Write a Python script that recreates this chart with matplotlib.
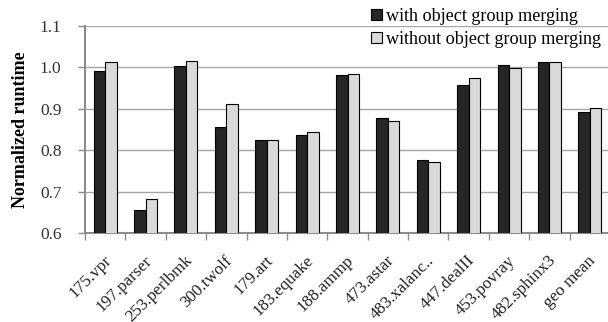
import matplotlib
matplotlib.use("Agg")
import matplotlib.pyplot as plt
import matplotlib.transforms as mtransforms
import numpy as np

plt.rcParams["font.family"] = ["Liberation Serif", "DejaVu Serif"]

benchmarks = ["175.vpr", "197.parser", "253.perlbmk", "300.twolf", "179.art",
              "183.equake", "188.ammp", "473.astar", "483.xalanc..", "447.dealII",
              "453.povray", "482.sphinx3", "geo mean"]
with_merging = [0.991, 0.656, 1.004, 0.856, 0.824, 0.837, 0.981, 0.878,
                0.776, 0.958, 1.005, 1.012, 0.891]
without_merging = [1.012, 0.682, 1.014, 0.911, 0.825, 0.844, 0.984, 0.871,
                   0.771, 0.973, 0.999, 1.012, 0.902]
yticks = [0.6, 0.7, 0.8, 0.9, 1.0, 1.1]

fig = plt.figure(figsize=(6.08, 3.22), dpi=100)
ax = fig.add_axes([85 / 608, 89 / 322, 525 / 608, 207.3 / 322])

x = np.arange(len(benchmarks))
w = 0.285
ax.bar(x - w / 2, with_merging, w, color="#262626", edgecolor="black",
       linewidth=0.8, label="with object group merging", zorder=3)
ax.bar(x + w / 2, without_merging, w, color="#d9d9d9", edgecolor="black",
       linewidth=0.8, label="without object group merging", zorder=3)

ax.set_ylim(0.6, 1.1)
ax.set_xlim(-0.5, len(benchmarks) - 0.5)
ax.set_yticks(yticks)
ax.set_yticklabels([f"{v:.1f}" for v in yticks], fontsize=12.5, color="#333333")
ax.yaxis.grid(True, color="#a6a6a6", linewidth=1.0, zorder=0)
ax.set_axisbelow(True)

# category boundary ticks on the bottom axis
ax.set_xticks(np.arange(len(benchmarks) + 1) - 0.5, minor=False)
ax.set_xticklabels([])
ax.set_xticks(x, minor=True)
ax.set_xticklabels(benchmarks, minor=True, rotation=45, ha="right",
                   rotation_mode="anchor", fontsize=12.3, color="#222222")
ax.tick_params(axis="x", which="minor", length=0, pad=14)
ax.tick_params(axis="x", which="major", length=5, width=1, color="#8c8c8c")
ax.tick_params(axis="y", length=5, width=1, color="#8c8c8c", pad=12)

offset = mtransforms.ScaledTranslation(-2 / 100, 0, fig.dpi_scale_trans)
for lbl in ax.get_xticklabels(minor=True):
    lbl.set_transform(lbl.get_transform() + offset)

for side in ("top", "right"):
    ax.spines[side].set_visible(False)
for side in ("left", "bottom"):
    ax.spines[side].set_color("#8c8c8c")
    ax.spines[side].set_linewidth(1.5)

ax.set_ylabel("Normalized runtime", fontsize=13, fontweight="bold")
ax.yaxis.set_label_coords(-0.106, 0.5)

fig.legend(loc="upper right", bbox_to_anchor=(1.0, 0.998), frameon=False,
           fontsize=13.1, handlelength=0.6, handleheight=0.6, handletextpad=0.2,
           labelspacing=0.33, borderaxespad=0.0)

fig.savefig("out.png", dpi=100)
